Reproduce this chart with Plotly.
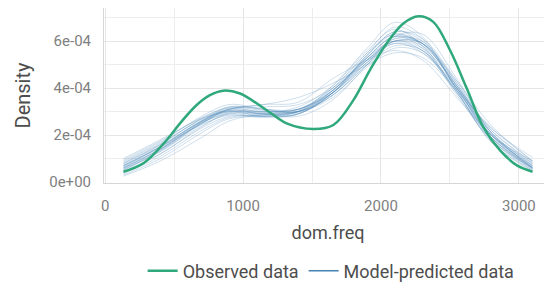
import plotly.graph_objects as go

# Observed density (x = dom.freq, y = density in units of 1e-4)
obs_x = [133, 278, 447, 543, 664, 760, 857, 978, 1171, 1316, 1510, 1655, 1800, 1920, 2041, 2162, 2271, 2379, 2500, 2621, 2741, 2862, 2983, 3099]
obs_y = [0.44, 0.80, 1.79, 2.50, 3.28, 3.70, 3.89, 3.77, 3.06, 2.50, 2.26, 2.43, 3.49, 4.77, 5.90, 6.75, 7.06, 6.82, 5.62, 4.00, 2.35, 1.36, 0.72, 0.44]

# Model-predicted (replicated) densities on a common grid, units of 1e-4
rep_x = [133, 400, 700, 900, 1150, 1400, 1650, 1900, 2100, 2300, 2550, 2800, 3099]
rep_1 = [0.60, 1.40, 2.50, 3.00, 2.90, 3.00, 3.90, 5.30, 6.20, 5.90, 4.00, 1.90, 0.60]
rep_2 = [0.80, 1.60, 2.70, 3.20, 3.10, 3.10, 3.80, 5.10, 5.90, 5.60, 3.90, 2.00, 0.70]
rep_3 = [0.45, 1.20, 2.30, 2.80, 2.80, 2.90, 3.80, 5.40, 6.40, 6.00, 4.10, 1.90, 0.55]
rep_4 = [0.70, 1.50, 2.60, 3.10, 3.00, 3.00, 3.70, 5.00, 6.00, 5.90, 4.20, 2.10, 0.75]
rep_5 = [0.55, 1.30, 2.40, 2.90, 2.95, 3.20, 4.10, 5.60, 6.50, 5.80, 3.80, 1.80, 0.60]
rep_6 = [0.90, 1.70, 2.80, 3.30, 3.10, 3.00, 3.60, 4.90, 5.70, 5.50, 4.00, 2.20, 0.85]
rep_7 = [0.35, 1.10, 2.20, 2.75, 2.85, 3.10, 4.00, 5.50, 6.60, 6.10, 3.90, 1.70, 0.45]
rep_8 = [0.65, 1.45, 2.55, 3.05, 2.90, 2.90, 3.80, 5.20, 6.10, 5.90, 4.10, 2.00, 0.65]
rep_9 = [1.00, 1.80, 2.70, 3.00, 2.80, 2.90, 3.90, 5.30, 6.00, 5.60, 3.80, 2.00, 0.90]
rep_10 = [0.50, 1.30, 2.50, 3.10, 3.20, 3.30, 4.00, 5.20, 5.90, 5.50, 3.90, 2.10, 0.70]
rep_11 = [0.75, 1.55, 2.55, 2.90, 2.80, 3.00, 4.10, 5.70, 6.80, 6.20, 3.90, 1.70, 0.50]
rep_12 = [0.60, 1.40, 2.60, 3.20, 3.10, 3.00, 3.70, 5.10, 6.10, 6.00, 4.20, 2.00, 0.60]
rep_13 = [0.30, 1.00, 2.10, 2.70, 2.80, 3.00, 3.90, 5.40, 6.30, 5.90, 4.00, 1.90, 0.60]
rep_14 = [0.85, 1.65, 2.65, 3.05, 3.00, 3.10, 3.90, 5.20, 6.00, 5.70, 4.10, 2.20, 0.80]
rep_15 = [0.70, 1.50, 2.45, 2.85, 2.75, 2.90, 3.80, 5.40, 6.40, 6.10, 4.30, 2.10, 0.60]
rep_16 = [0.55, 1.35, 2.50, 3.10, 3.30, 3.60, 4.20, 5.00, 5.50, 5.30, 3.90, 2.30, 0.90]
rep_17 = [0.65, 1.50, 2.60, 3.00, 2.90, 3.00, 3.80, 5.30, 6.20, 5.70, 3.70, 1.80, 0.55]
rep_18 = [0.95, 1.75, 2.75, 3.15, 2.95, 2.95, 3.70, 5.00, 5.80, 5.60, 4.00, 2.30, 1.05]
rep_19 = [0.40, 1.20, 2.35, 2.95, 3.00, 3.10, 3.90, 5.30, 6.20, 5.90, 4.00, 1.80, 0.50]
rep_20 = [0.60, 1.40, 2.50, 2.95, 2.85, 3.05, 4.00, 5.50, 6.30, 5.80, 3.80, 1.90, 0.65]
rep_21 = [0.70, 1.50, 2.60, 3.05, 2.90, 2.80, 3.50, 5.00, 6.20, 6.30, 4.40, 2.10, 0.60]
rep_22 = [0.50, 1.35, 2.55, 3.15, 3.05, 3.00, 3.80, 5.20, 6.00, 5.80, 4.10, 2.00, 0.70]
rep_23 = [0.25, 0.90, 1.90, 2.60, 2.90, 3.10, 3.80, 5.10, 6.00, 5.90, 4.30, 2.40, 0.90]
rep_24 = [0.80, 1.60, 2.70, 3.10, 3.30, 3.40, 4.40, 5.20, 5.60, 5.20, 3.60, 2.00, 0.80]
replicates = [rep_1, rep_2, rep_3, rep_4, rep_5, rep_6, rep_7, rep_8, rep_9, rep_10, rep_11, rep_12,
              rep_13, rep_14, rep_15, rep_16, rep_17, rep_18, rep_19, rep_20, rep_21, rep_22, rep_23, rep_24]

x_ticks = [0, 1000, 2000, 3000]
y_ticks = [0, 2e-4, 4e-4, 6e-4]
y_tick_text = ["0e+00", "2e-04", "4e-04", "6e-04"]
SCALE = 1e-4

GREEN = "#2fa97c"
BLUE = "#4682b4"

fig = go.Figure()
for i, r in enumerate(replicates):
    fig.add_trace(go.Scatter(
        x=rep_x, y=[v * SCALE for v in r], mode="lines",
        line=dict(color="rgba(70,130,180,0.26)", width=1, shape="spline"),
        name="Model-predicted data", legendgroup="rep",
        showlegend=False, hoverinfo="skip"))
# legend entry for replicates
fig.add_trace(go.Scatter(x=[None], y=[None], mode="lines",
                         line=dict(color=BLUE, width=1.5),
                         name="Model-predicted data", legendgroup="rep", legendrank=2))
fig.add_trace(go.Scatter(
    x=obs_x, y=[v * SCALE for v in obs_y], mode="lines",
    line=dict(color=GREEN, width=2.5, shape="spline"),
    name="Observed data", legendrank=1))

FONT = "Roboto, Arial, sans-serif"
fig.update_layout(
    width=544, height=285,
    margin=dict(l=96, r=0, t=0, b=110, autoexpand=False),
    plot_bgcolor="white", paper_bgcolor="white",
    font=dict(family=FONT, color="#4d4d4d"),
    showlegend=True,
    legend=dict(orientation="h", x=0.507, xanchor="center", y=-0.503, yanchor="middle",
                font=dict(size=18, color="#4d4d4d"), bgcolor="rgba(0,0,0,0)",
                itemwidth=30, traceorder="normal"),
    xaxis=dict(range=[-8, 3240], tickvals=x_ticks, ticktext=[str(t) for t in x_ticks],
               automargin=False,
               showgrid=True, gridcolor="#e6e6e6", gridwidth=1,
               minor=dict(tickvals=[500, 1500, 2500], showgrid=True, gridcolor="#ededed", gridwidth=1),
               showline=True, linecolor="#d6d6d6", linewidth=1, zeroline=False,
               ticks="", tickfont=dict(size=15, color="#808080"), ticklabelstandoff=9,
               title=dict(text="dom.freq", font=dict(size=18, color="#4d4d4d"), standoff=12)),
    yaxis=dict(range=[-0.04e-4, 7.41e-4], tickvals=y_ticks, ticktext=y_tick_text,
               automargin=False,
               showgrid=True, gridcolor="#e6e6e6", gridwidth=1,
               minor=dict(tickvals=[1e-4, 3e-4, 5e-4, 7e-4], showgrid=True, gridcolor="#ededed", gridwidth=1),
               showline=True, linecolor="#d6d6d6", linewidth=1, zeroline=False,
               ticks="", tickfont=dict(size=15, color="#808080"), ticklabelstandoff=9,
               title=dict(text="Density", font=dict(size=20, color="#4d4d4d"), standoff=13)),
)

fig.write_html("out.html")
